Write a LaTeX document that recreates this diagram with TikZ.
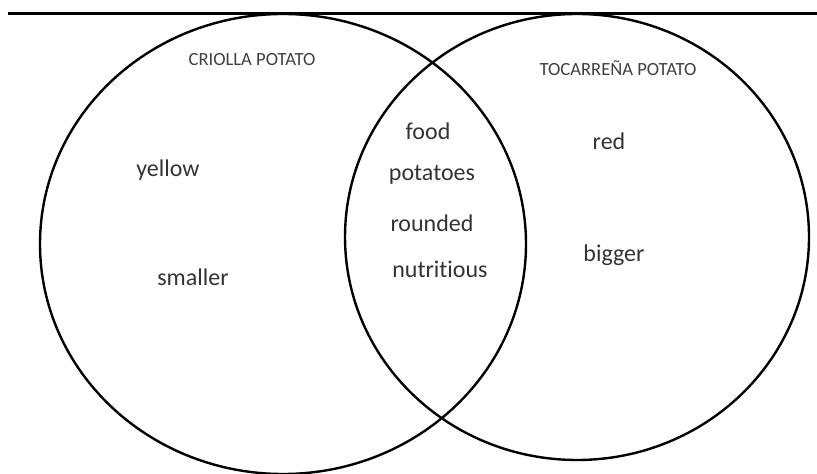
\documentclass[tikz,border=0pt]{standalone}
\usepackage{fontspec}
\setmainfont{Carlito}[Ligatures=CommonOff]
\usetikzlibrary{calc}

\tikzset{
    word/.style={text=black!80, font=\fontsize{12}{14}\selectfont},
    setname/.style={text=black!75, font=\fontsize{9.3}{11}\selectfont},
}

\begin{document}
\begin{tikzpicture}[x=0.5pt, y=-0.5pt]
    \useasboundingbox (0, 0) rectangle (817, 474);
    \draw[line width=1.5pt] (8, 14) -- (817, 14);

    \draw[line width=1.2pt] (283, 244) ellipse [x radius=243, y radius=230];
    \draw[line width=1.2pt] (577, 237) ellipse [x radius=232, y radius=223];

    \node[setname] (criolla) at (252, 60) {CRIOLLA POTATO};
    \node[setname] (tocarrena) at (618, 68) {TOCARREÑA POTATO};

    \node[word] (yellow) at (168, 170) {yellow};
    \node[word] (smaller) at (193, 277) {smaller};

    \node[word] (food) at (428, 131) {food};
    \node[word] (potatoes) at (432, 175) {potatoes};
    \node[word] (rounded) at (432, 223) {rounded};
    \node[word] (nutritious) at (440, 269) {nutritious};

    \node[word] (red) at (609, 141) {red};
    \node[word] (bigger) at (614, 255) {bigger};
\end{tikzpicture}
\end{document}
